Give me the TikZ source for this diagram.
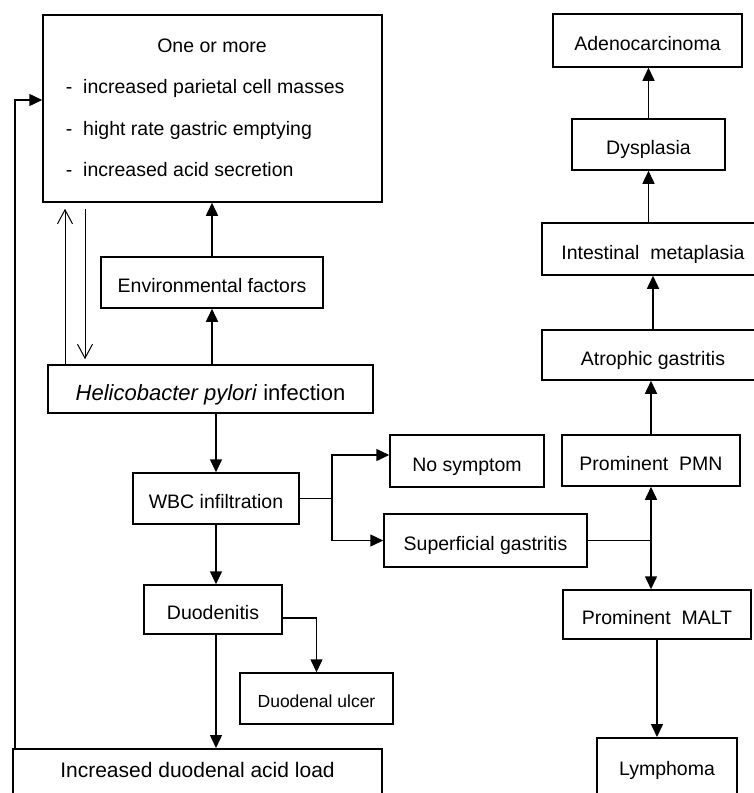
\documentclass[tikz,border=0pt]{standalone}
\usepackage{fontspec}
\setmainfont{Liberation Sans}
\usepackage{tikz}
\usetikzlibrary{arrows.meta}
\usetikzlibrary{positioning}
\usetikzlibrary{calc}
\tikzset{
  box/.style = {draw=black, inner sep=0pt, align=center, text height=20pt,
    text depth=0pt, font=\fontsize{19.5}{23}\selectfont},% boite standard
  line_txt/.style = {inner sep=0pt, anchor=base west,
    font=\fontsize{19.5}{23}\selectfont},% ligne de texte dans la boite
  open_arr/.style = {-{Straight Barb[length=14pt,width=15pt]},
    line width=1pt}% fleche ouverte
}

\begin{document}
\begin{tikzpicture}[x=1pt,y=-1pt,>={Triangle[length=13pt,width=12pt]},
  line width=1.5pt]
\useasboundingbox (0,0) rectangle (754,793);
\clip (0,0) rectangle (754,793);

% colonne de gauche
\node [box, minimum width=339pt, minimum height=187pt] (risk) at (212.5,108.5) {};
\node [line_txt, anchor=base] (risk_t) at (212,52) {One or more};
\node [line_txt] (risk_a) at (65,93) {-\hspace{11pt}increased parietal cell masses};
\node [line_txt] (risk_b) at (65,135) {-\hspace{11pt}hight rate gastric emptying};
\node [line_txt] (risk_c) at (65,176) {-\hspace{11pt}increased acid secretion};
\node [box, minimum width=222pt, minimum height=51pt] (env) at (212,282.5) {Environmental factors};
\node [box, minimum width=325pt, minimum height=48pt, text height=22pt,
  font=\fontsize{22}{26}\selectfont] (hp) at (210.5,389) {\textit{Helicobacter pylori} infection};
\node [box, minimum width=166pt, minimum height=51pt] (wbc) at (216,498.5) {WBC infiltration};
\node [box, minimum width=138pt, minimum height=49pt] (duod) at (213,609.5) {Duodenitis};
\node [box, minimum width=153pt, minimum height=51pt, text height=18pt,
  font=\fontsize{17.5}{21}\selectfont] (ulcer) at (316.5,698.5) {Duodenal ulcer};
\node [box, anchor=north, minimum width=369pt, text height=29pt, text depth=23pt,
  font=\fontsize{21}{25}\selectfont] (load) at (197.5,748) {Increased duodenal acid load};

% milieu
\node [box, minimum width=154pt, minimum height=52pt] (nosym) at (467,461) {No symptom};
\node [box, minimum width=203pt, minimum height=53pt] (superf) at (485.5,540.5) {Superficial gastritis};

% colonne de droite
\node [box, minimum width=189pt, minimum height=53pt] (adeno) at (647.5,40.5) {Adenocarcinoma};
\node [box, minimum width=153pt, minimum height=51pt] (dysp) at (648.5,144.5) {Dysplasia};
\node [box, minimum width=222pt, minimum height=52pt] (intest) at (653,249) {Intestinal\ \ metaplasia};
\node [box, minimum width=222pt, minimum height=50pt] (atro) at (653,355) {Atrophic gastritis};
\node [box, minimum width=178pt, minimum height=51pt] (pmn) at (651,460.5) {Prominent\ \ PMN};
\node [box, minimum width=188pt, minimum height=49pt] (malt) at (657,614.5) {Prominent\ \ MALT};
\node [box, anchor=north, minimum width=140pt, text height=38pt, text depth=25pt]
  (lymph) at (667,737) {Lymphoma};

% fleches
\coordinate (fb) at (15,100);
\coordinate (up_x) at (65,0);
\coordinate (dn_x) at (85,0);
\coordinate (br) at (332,0);
\draw[->] (load.north -| fb) -- (fb) -- (risk.west |- fb);
\draw[->] (env.north) -- (env.north |- risk.south);
\draw[->] (env.south |- hp.north) -- (env.south);
\draw[open_arr] (hp.north -| up_x) -- ($(risk.south -| up_x)+(0,6)$);
\draw[open_arr] ($(risk.south -| dn_x)+(0,6)$) -- ($(hp.north -| dn_x)+(0,-5)$);
\draw[->] (wbc.north |- hp.south) -- (wbc.north);
\draw[->] (wbc.south) -- (wbc.south |- duod.north);
\draw[->] (wbc.south |- duod.south) -- (wbc.south |- load.north);
\draw[->] ($(duod.east)+(0,8.5)$) -| (ulcer.north);
\draw (wbc.east) -- (wbc.east -| br);
\draw[->] (wbc.east -| br) |- ($(nosym.west)+(0,-6)$);
\draw[->] (wbc.east -| br) |- (superf.west);

\draw[->] (dysp.north) -- (dysp.north |- adeno.south);
\draw[->] (intest.north -| dysp.north) -- (dysp.south);
\draw[->] (atro.north) -- (atro.north |- intest.south);
\draw[->] (pmn.north) -- (pmn.north |- atro.south);
\draw[<->] (pmn.south) -- (pmn.south |- malt.north);
\draw (superf.east) -- (superf.east -| pmn.south);
\draw[->] (malt.south) -- (malt.south |- lymph.north);
%\draw[dashed] (risk.north) -- (adeno.north);
\end{tikzpicture}
\end{document}
